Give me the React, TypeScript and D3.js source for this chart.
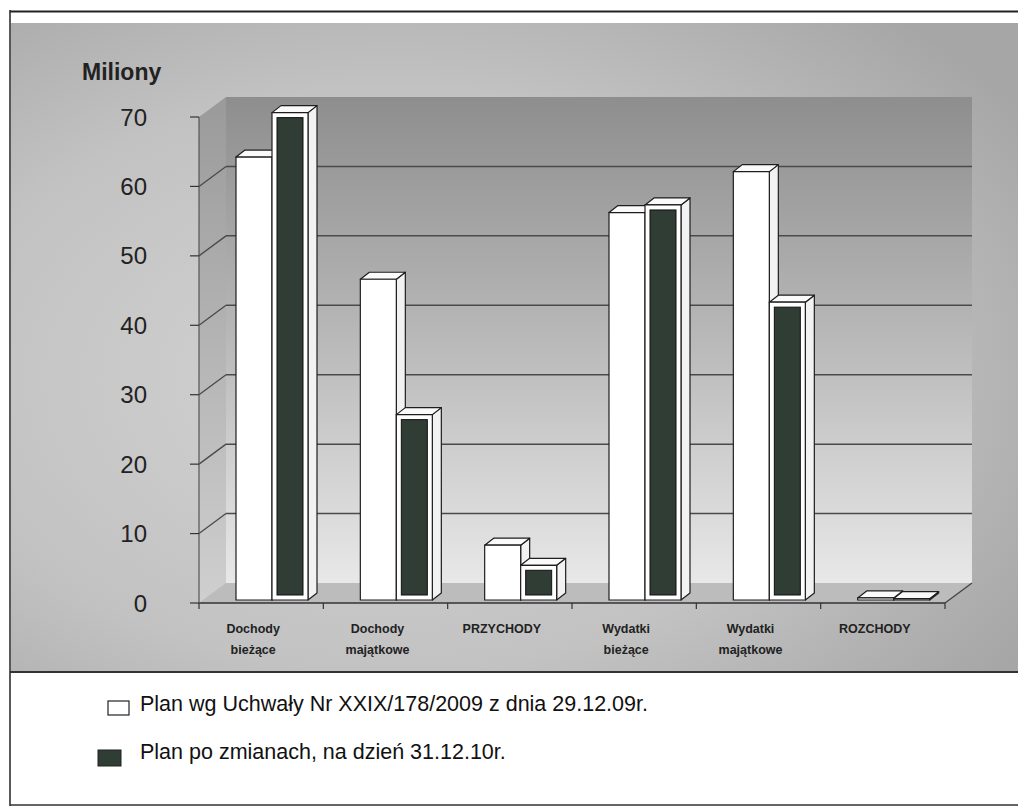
import React from 'react';
import * as d3 from 'd3';

const categories: string[][] = [
  ['Dochody', 'bieżące'],
  ['Dochody', 'majątkowe'],
  ['PRZYCHODY'],
  ['Wydatki', 'bieżące'],
  ['Wydatki', 'majątkowe'],
  ['ROZCHODY'],
];
const planUchwala = [63.8, 46.2, 7.9, 55.8, 61.7, 0.3];
const planZmiany = [70.2, 26.7, 5.0, 56.9, 42.9, 0.2];
const yTicks = [0, 10, 20, 30, 40, 50, 60, 70];
const legendLabels = [
  'Plan wg Uchwały Nr XXIX/178/2009 z dnia 29.12.09r.',
  'Plan po zmianach, na dzień 31.12.10r.',
];
const axisTitle = 'Miliony';

const FONT = '"Liberation Sans", Arial, sans-serif';
const DARK = '#2f3d35';

export default function App() {
  const W = 1018, H = 809;
  const X0 = 199, X1 = 945;
  const DX = 27, DY = -20; // wall depth
  const BX = 3, BY = -3; // bar front-plane offset
  const PX = 9, PY = -7; // bar depth

  const x = d3.scaleBand<number>().domain(d3.range(categories.length)).range([X0, X1]).padding(0);
  const inner = d3.scaleBand<number>().domain([0, 1]).range([34, 106]).padding(0);
  const y = d3.scaleLinear().domain([0, 70]).range([603, 117]);
  const yTop = y(70);
  const yBase = y(0);

  const series = [planUchwala, planZmiany];

  const bar = (ci: number, si: number) => {
    const v = series[si][ci];
    const bx = (x(ci) as number) + (inner(si) as number) + BX;
    const bw = inner.bandwidth();
    const top = y(v) + BY;
    const bot = yBase + BY;
    const front = `M${bx},${top}L${bx + bw},${top}L${bx + bw},${bot}L${bx},${bot}Z`;
    const topFace = `M${bx},${top}L${bx + PX},${top + PY}L${bx + bw + PX},${top + PY}L${bx + bw},${top}Z`;
    const side = `M${bx + bw},${top}L${bx + bw + PX},${top + PY}L${bx + bw + PX},${bot + PY}L${bx + bw},${bot}Z`;
    const h = bot - top;
    const inset = 5;
    return (
      <g key={`b${ci}-${si}`}>
        <path d={side} fill="#f2f2f2" stroke="#1e1e1e" strokeWidth={1.2} strokeLinejoin="round" />
        <path d={topFace} fill="#fafafa" stroke="#1e1e1e" strokeWidth={1.2} strokeLinejoin="round" />
        <path d={front} fill="#ffffff" stroke="#1e1e1e" strokeWidth={1.2} />
        {si === 1 && h > inset * 2 + 2 && (
          <rect x={bx + inset} y={top + inset} width={bw - inset * 2} height={h - inset * 2}
            fill={DARK} stroke="#111" strokeWidth={1} />
        )}
      </g>
    );
  };

  return (
    <svg width={W} height={H} style={{ position: 'absolute', left: 0, top: 0 }} fontFamily={FONT}>
      <defs>
        <radialGradient id="bg" cx="0.38" cy="0.55" r="0.75">
          <stop offset="0" stopColor="#d4d4d4" />
          <stop offset="0.6" stopColor="#c2c2c2" />
          <stop offset="1" stopColor="#a6a6a6" />
        </radialGradient>
        <linearGradient id="wall" x1="0" y1="0" x2="0" y2="1">
          <stop offset="0" stopColor="#8e8e8e" />
          <stop offset="0.45" stopColor="#b4b4b4" />
          <stop offset="1" stopColor="#e8e8e8" />
        </linearGradient>
        <linearGradient id="side" x1="0" y1="0" x2="0" y2="1">
          <stop offset="0" stopColor="#9a9a9a" />
          <stop offset="1" stopColor="#cfcfcf" />
        </linearGradient>
      </defs>
      <rect x={0} y={0} width={W} height={H} fill="#ffffff" />
      {/* chart area */}
      <rect x={11} y={23} width={W - 11} height={649} fill="url(#bg)" />
      <line x1={10} y1={11.5} x2={W} y2={11.5} stroke="#222" strokeWidth={2} />
      <line x1={10} y1={10} x2={10} y2={806} stroke="#222" strokeWidth={1.5} />
      <line x1={10} y1={672} x2={W} y2={672} stroke="#333" strokeWidth={2} />
      <line x1={10} y1={805} x2={W} y2={805} stroke="#333" strokeWidth={1.5} />

      {/* side wall */}
      <path d={`M${X0},${yTop}L${X0 + DX},${yTop + DY}L${X0 + DX},${yBase + DY}L${X0},${yBase}Z`} fill="url(#side)" />
      {/* back wall */}
      <rect x={X0 + DX} y={yTop + DY} width={X1 - X0} height={yBase - yTop} fill="url(#wall)" />
      {/* gridlines */}
      {yTicks.filter(t => t > 0 && t < 70).map(t => (
        <g key={`g${t}`}>
          <line x1={X0} y1={y(t)} x2={X0 + DX} y2={y(t) + DY} stroke="#4a4a4a" strokeWidth={1.3} />
          <line x1={X0 + DX} y1={y(t) + DY} x2={X1 + DX} y2={y(t) + DY} stroke="#4a4a4a" strokeWidth={1.5} />
        </g>
      ))}
      {/* floor */}
      <path d={`M${X0},${yBase}L${X1},${yBase}L${X1 + DX},${yBase + DY}L${X0 + DX},${yBase + DY}Z`} fill="#bcbcbc" />
      <line x1={X0} y1={yBase} x2={X1} y2={yBase} stroke="#333" strokeWidth={1.5} />
      <line x1={X1} y1={yBase} x2={X1 + DX} y2={yBase + DY} stroke="#444" strokeWidth={1.3} />
      {/* category ticks */}
      {d3.range(categories.length + 1).map(i => {
        const xx = i < categories.length ? (x(i) as number) : X1;
        return <line key={`ct${i}`} x1={xx} y1={yBase} x2={xx} y2={yBase + 6} stroke="#333" strokeWidth={1.2} />;
      })}
      {/* y axis */}
      <line x1={X0} y1={yTop} x2={X0} y2={yBase} stroke="#555" strokeWidth={1.2} />
      {yTicks.map(t => (
        <g key={`t${t}`}>
          <line x1={X0 - 9} y1={y(t)} x2={X0} y2={y(t)} stroke="#333" strokeWidth={1.2} />
          <text x={147} y={y(t)} textAnchor="end" dominantBaseline="central" fontSize={24} fill="#222">{t}</text>
        </g>
      ))}
      <text x={82} y={80} fontSize={23} fontWeight="bold" fill="#222">{axisTitle}</text>

      {/* bars */}
      {d3.range(categories.length).map(ci => (
        <g key={`c${ci}`}>
          {bar(ci, 0)}
          {bar(ci, 1)}
        </g>
      ))}

      {/* category labels */}
      {categories.map((lines, ci) => {
        const cx = (x(ci) as number) + x.bandwidth() / 2 - 8;
        return (
          <text key={`cl${ci}`} textAnchor="middle" fontSize={12.5} fontWeight="bold" fill="#222">
            {lines.map((l, li) => (
              <tspan key={li} x={cx} y={633 + li * 21}>{l}</tspan>
            ))}
          </text>
        );
      })}

      {/* legend */}
      <rect x={108} y={701} width={21} height={14} fill="#fff" stroke="#222" strokeWidth={1.2} />
      <text x={140} y={711} fontSize={21.5} fill="#111">{legendLabels[0]}</text>
      <rect x={98} y={750} width={23} height={16} fill={DARK} stroke="#222" strokeWidth={1} />
      <text x={140} y={759} fontSize={21.5} fill="#111">{legendLabels[1]}</text>
    </svg>
  );
}
